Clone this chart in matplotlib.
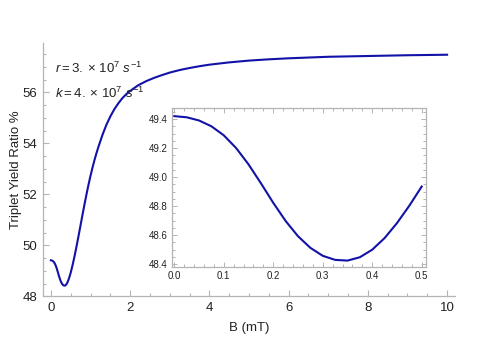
"""Triplet yield ratio versus magnetic field, with a low-field inset."""

import matplotlib

matplotlib.use("Agg")
import matplotlib.pyplot as plt
from matplotlib.ticker import MultipleLocator

# values
b_low = [0.0, 0.025, 0.05, 0.075, 0.1, 0.125, 0.15, 0.175, 0.2, 0.225,
         0.25, 0.275, 0.3, 0.325, 0.35, 0.375, 0.4, 0.425, 0.45, 0.475, 0.5]
yield_low = [49.420, 49.412, 49.390, 49.350, 49.288, 49.200, 49.088, 48.958,
             48.823, 48.698, 48.593, 48.513, 48.458, 48.430, 48.425, 48.448,
             48.500, 48.580, 48.683, 48.803, 48.935]

b_high = [0.55, 0.6, 0.65, 0.7, 0.75, 0.8, 0.85, 0.9, 0.95, 1.0, 1.05, 1.1,
          1.15, 1.2, 1.3, 1.4, 1.5, 1.6, 1.7, 1.8, 1.9, 2.0, 2.2, 2.4, 2.6,
          2.8, 3.0, 3.25, 3.5, 3.75, 4.0, 4.5, 5.0, 5.5, 6.0, 7.0, 8.0, 9.0,
          10.0]
yield_high = [49.25, 49.605, 49.99, 50.395, 50.81, 51.225, 51.63, 52.02,
              52.39, 52.735, 53.055, 53.35, 53.62, 53.87, 54.33, 54.73,
              55.06, 55.34, 55.57, 55.77, 55.93, 56.06, 56.28, 56.44, 56.57,
              56.68, 56.78, 56.88, 56.96, 57.03, 57.09, 57.18, 57.25, 57.30,
              57.34, 57.40, 57.43, 57.46, 57.48]

x_ticks_main = [0, 2, 4, 6, 8, 10]
y_ticks_main = [48, 50, 52, 54, 56]
x_ticks_inset = [0.0, 0.1, 0.2, 0.3, 0.4, 0.5]
y_ticks_inset = [48.4, 48.6, 48.8, 49.0, 49.2, 49.4]

LINE = "#1212a8"
AXIS = "#b4b4b4"
TEXT = "#222222"

plt.rcParams["font.family"] = ["Liberation Sans", "DejaVu Sans"]
plt.rcParams["mathtext.fontset"] = "custom"
plt.rcParams["mathtext.rm"] = "Liberation Sans"
plt.rcParams["mathtext.it"] = "Liberation Sans:italic"

fig = plt.figure(figsize=(4.98, 3.41), dpi=100)

# main plot, Mathematica-style axes (left and bottom only)
ax = fig.add_axes([0.0863, 0.1305, 0.8274, 0.7434])
ax.plot(b_low + b_high, yield_low + yield_high, color=LINE, lw=1.5)
ax.set_xlim(-0.2, 10.2)
ax.set_ylim(48, 57.94)
ax.set_xticks(x_ticks_main)
ax.set_yticks(y_ticks_main)
ax.xaxis.set_minor_locator(MultipleLocator(0.5))
ax.yaxis.set_minor_locator(MultipleLocator(0.5))
for side in ("top", "right"):
    ax.spines[side].set_visible(False)
for side in ("left", "bottom"):
    ax.spines[side].set_color(AXIS)
    ax.spines[side].set_linewidth(0.9)
ax.tick_params(which="both", direction="in", color=AXIS, width=0.8,
               labelsize=9.5, labelcolor=TEXT, pad=4)
ax.tick_params(which="major", length=4)
ax.tick_params(which="minor", length=2.2)
ax.set_xlabel("B (mT)", fontsize=9.5, color=TEXT, labelpad=6)
ax.set_ylabel("Triplet Yield Ratio %", fontsize=9.5, color=TEXT)
ax.yaxis.set_label_coords(-0.052, 0.5)

fig.text(0.110, 0.800, r"$r = 3.\times\,10^{7}\ s^{-1}$", fontsize=9.5,
         color=TEXT, va="center")
fig.text(0.110, 0.727, r"$k = 4.\times\,10^{7}\ s^{-1}$", fontsize=9.5,
         color=TEXT, va="center")

# inset: low-field region with a full frame
ins = fig.add_axes([0.3454, 0.2179, 0.51, 0.4654])
ins.plot(b_low, yield_low, color=LINE, lw=1.5)
ins.set_xlim(-0.0046, 0.5087)
ins.set_ylim(48.383, 49.476)
ins.set_xticks(x_ticks_inset)
ins.set_yticks(y_ticks_inset)
ins.set_xticklabels([f"{v:.1f}" for v in x_ticks_inset])
ins.set_yticklabels([f"{v:.1f}" for v in y_ticks_inset])
ins.xaxis.set_minor_locator(MultipleLocator(0.02))
ins.yaxis.set_minor_locator(MultipleLocator(0.05))
for spine in ins.spines.values():
    spine.set_color(AXIS)
    spine.set_linewidth(0.9)
ins.tick_params(which="both", direction="in", color=AXIS, width=0.7,
                top=True, right=True, labelsize=7, labelcolor=TEXT, pad=3)
ins.tick_params(which="major", length=3.5)
ins.tick_params(which="minor", length=2)

fig.savefig("out.png", dpi=100)
plt.close(fig)
